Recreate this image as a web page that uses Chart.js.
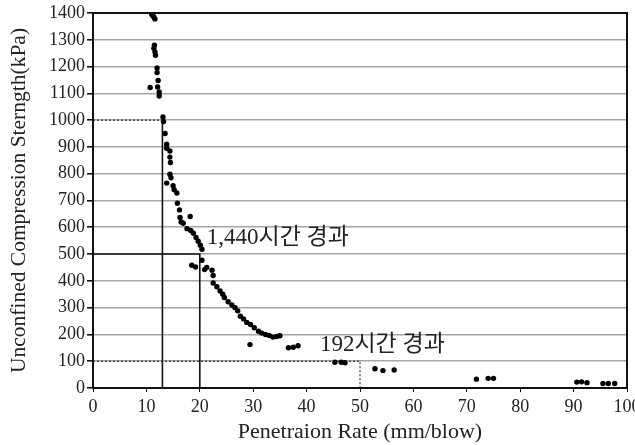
<!DOCTYPE html>
<html>
<head>
<meta charset="utf-8">
<script src="https://cdn.jsdelivr.net/npm/chart.js@4"></script>
<style>
  html, body { margin: 0; padding: 0; background: #fff; }
  #wrap { width: 635px; height: 445px; }
</style>
</head>
<body>
<div id="wrap"><canvas id="chart" width="635" height="445"></canvas></div>
<script>
// penetration rate (mm/blow) vs unconfined compression strength (kPa)
const rate = [
  11.0, 11.2, 11.4, 11.6, 11.5, 11.4, 11.6, 11.7,
  12.0, 12.0, 12.2, 10.7, 12.1, 12.4, 12.4,
  13.1, 13.2, 13.5, 13.8, 13.8, 14.4, 14.4, 14.5,
  14.4, 14.6, 13.8, 15.0, 15.2, 15.7, 15.8, 16.2,
  16.3, 16.5, 18.2, 16.9, 17.6, 18.3, 18.8, 19.3, 19.7, 20.1, 20.4,
  18.5, 19.2, 20.4, 20.9, 21.3, 22.3, 22.5,
  22.5, 23.2, 23.8, 24.3, 24.6, 25.3, 26.0, 26.6, 27.1, 27.6, 28.2, 28.8,
  29.5, 30.2, 31.0, 31.6, 32.3, 33.0, 33.7, 34.4, 35.0,
  29.4, 36.6, 37.5, 38.4,
  45.3, 46.5, 47.2,
  52.8, 54.3, 56.4,
  71.8, 74.0, 75.0,
  90.6, 91.5, 92.5,
  95.5, 96.5, 97.7
];
const strength = [
  1395, 1390, 1385, 1378, 1280, 1268, 1255, 1242,
  1195, 1178, 1148, 1122, 1124, 1105, 1090,
  1012, 995, 950, 910, 895, 885, 862, 842,
  798, 785, 765, 755, 740, 728, 690, 665,
  637, 620, 640, 615, 595, 588, 578, 562, 548, 533, 518,
  458, 452, 477, 442, 450, 440, 420,
  392, 378, 362, 350, 338, 322, 310, 300, 288, 268, 258, 245,
  237, 225, 212, 205, 200, 196, 190, 192, 195,
  162, 150, 152, 158,
  96, 96, 94,
  72, 65, 67,
  33, 36, 36,
  22, 23, 20,
  17, 17, 17
];

// guide lines
const guide1000Dotted = [[0, 1000], [13, 1000]];
const guide1000Solid = [[13, 1000], [13, 0]];
const guide500 = [[0, 500], [20, 500], [20, 0]];
const guide100 = [[0, 100], [50, 100], [50, 0]];

// text labels: [x, y, text]
const notes = [
  [21.3, 562, '1,440시간 경과'],
  [42.5, 160, '192시간 경과']
];

const xMin = 0, xMax = 100, xStep = 10;
const yMin = 0, yMax = 1400, yStep = 100;

const serif = "'Liberation Serif', 'Times New Roman', serif";

function toPts(arr) { return arr.map(p => ({ x: p[0], y: p[1] })); }

function guideSet(arr, dash) {
  return {
    type: 'line',
    data: toPts(arr),
    borderColor: '#111',
    borderWidth: dash ? 1 : 1.6,
    borderDash: dash ? [2, 2] : [],
    pointRadius: 0,
    fill: false,
    tension: 0
  };
}

// box round the plot area + the two text notes
const framePlugin = {
  id: 'frame',
  afterDatasetsDraw(chart) {
    const { ctx, chartArea: a, scales } = chart;
    ctx.save();
    ctx.strokeStyle = '#111';
    ctx.lineWidth = 2;
    ctx.strokeRect(a.left, a.top, a.right - a.left, a.bottom - a.top);
    ctx.fillStyle = '#222';
    ctx.font = "23px 'Liberation Serif', 'Noto Sans CJK KR', serif";
    ctx.textBaseline = 'middle';
    ctx.textAlign = 'left';
    notes.forEach(n => {
      ctx.fillText(n[2], scales.x.getPixelForValue(n[0]), scales.y.getPixelForValue(n[1]));
    });
    ctx.restore();
  }
};

new Chart(document.getElementById('chart').getContext('2d'), {
  type: 'scatter',
  data: {
    datasets: [
      guideSet(guide1000Dotted, true),
      guideSet(guide1000Solid, false),
      guideSet(guide500, false),
      guideSet(guide100, true),
      {
        data: rate.map((r, i) => ({ x: r, y: strength[i] })),
        backgroundColor: '#000',
        borderColor: '#000',
        pointRadius: 2.7,
        pointBorderWidth: 0
      }
    ]
  },
  options: {
    responsive: false,
    animation: false,
    layout: { padding: { left: 0, right: 8, top: 13, bottom: 0 } },
    plugins: { legend: { display: false }, tooltip: { enabled: false } },
    scales: {
      x: {
        type: 'linear', min: xMin, max: xMax,
        ticks: { stepSize: xStep, color: '#222', font: { family: serif, size: 18 }, padding: 4, maxRotation: 0 },
        grid: { drawOnChartArea: false, drawTicks: true, tickLength: 4, tickColor: '#111' },
        border: { color: '#111', width: 2 },
        title: { display: true, text: 'Penetraion Rate (mm/blow)', color: '#222', font: { family: serif, size: 22 }, padding: { top: 0, bottom: 0 } },
        afterFit(s) { s.height = 57; s.paddingRight = 0; s.paddingLeft = 0; }
      },
      y: {
        type: 'linear', min: yMin, max: yMax,
        ticks: { stepSize: yStep, color: '#222', font: { family: serif, size: 18 }, padding: 2,
                 callback: v => String(v) },
        grid: { color: '#a6a6a6', lineWidth: 1.6, tickLength: 6, tickColor: '#111' },
        border: { color: '#111', width: 2 },
        title: { display: true, text: 'Unconfined Compression Sterngth(kPa)', color: '#222', font: { family: serif, size: 21.5 }, padding: { top: 6, bottom: 0 } },
        afterFit(s) { s.width = 93; s.paddingTop = 0; s.paddingBottom = 0; }
      }
    }
  },
  plugins: [framePlugin]
});
</script>
</body>
</html>
